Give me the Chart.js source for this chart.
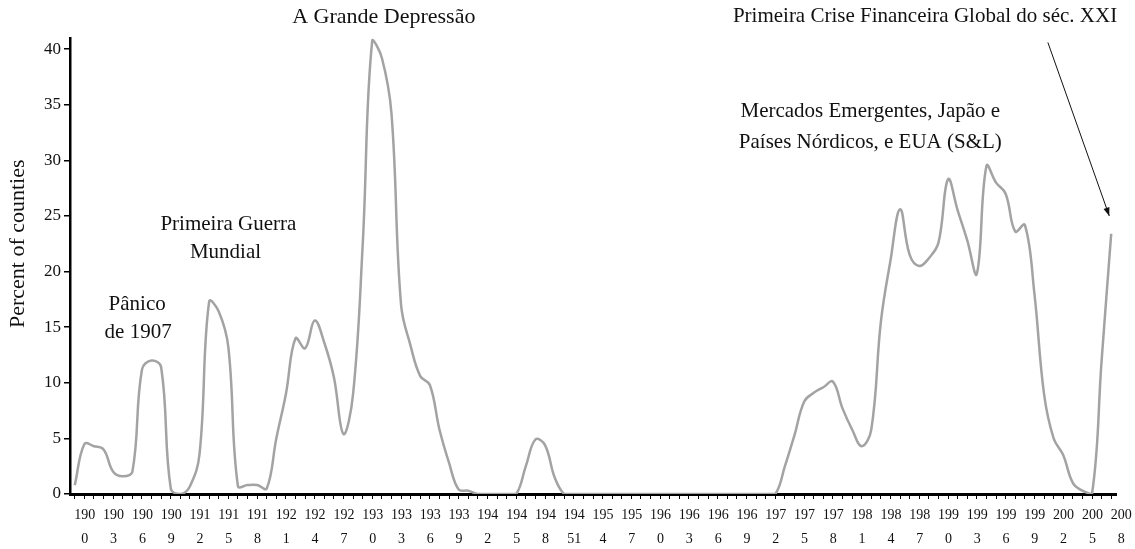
<!DOCTYPE html>
<html>
<head>
<meta charset="utf-8">
<script src="https://cdn.jsdelivr.net/npm/chart.js@4/dist/chart.umd.min.js"></script>
<style>
  html, body { margin: 0; padding: 0; background: #fff; }
  #wrap { width: 1135px; height: 549px; }
</style>
</head>
<body>
<div id="wrap"><canvas id="crisisChart"></canvas></div>
<script>
// years 1900..2008, one point per year
const years = Array.from({ length: 109 }, (_, i) => String(1900 + i));

// percent of countries in banking crisis
const shares = [
  0.8, 4.5, 4.3, 4.0, 2.0, 1.6, 2.0, 11.2, 12.0, 11.4,      // 1900-1909
  0.5, 0, 0.7, 3.6, 17.3, 16.4, 13.2, 0.7, 0.8, 0.8,         // 1910-1919
  0.5, 5.0, 9.0, 14.0, 13.1, 15.6, 13.6, 10.5, 5.4, 9.0,     // 1920-1929
  22.4, 40.8, 39.2, 34.2, 17.0, 13.3, 10.6, 9.8, 5.8, 2.8,   // 1930-1939
  0.4, 0.3, 0, 0, 0, 0, 0, 2.5, 4.9, 4.4,                    // 1940-1949
  1.5, 0, 0, 0, 0, 0, 0, 0, 0, 0,                            // 1950-1959
  0, 0, 0, 0, 0, 0, 0, 0, 0, 0,                              // 1960-1969
  0, 0, 0, 0, 2.5, 5.3, 8.3, 9.1, 9.6, 10.1,                 // 1970-1979
  7.7, 5.8, 4.3, 5.8, 15.5, 21.0, 25.6, 21.5, 20.5, 21.2,    // 1980-1989
  22.6, 28.3, 25.5, 22.8, 19.8, 29.5, 28.0, 27.0, 23.6, 24.2,// 1990-1999
  18.0, 9.0, 5.0, 3.5, 1.0, 0.3, 0, 12.0, 23.4               // 2000-2008
];

// y axis ticks
const yTicks = [0, 5, 10, 15, 20, 25, 30, 35, 40];

// x tick labels every 3 years, wrapped on two lines as in the original
const tickTop = ['190','190','190','190','191','191','191','192','192','192',
  '193','193','193','193','194','194','194','194','195','195',
  '196','196','196','196','197','197','197','198','198','198',
  '199','199','199','199','200','200','200'];
const tickBottom = ['0','3','6','9','2','5','8','1','4','7',
  '0','3','6','9','2','5','8','51','4','7',
  '0','3','6','9','2','5','8','1','4','7',
  '0','3','6','9','2','5','8'];

// text notes placed by year and value
const notes = [
  { text: 'A Grande Depressão', year: 1932.2, value: 42.9, size: 22 },
  { text: 'Primeira Crise Financeira Global do séc. XXI', year: 1988.6, value: 42.9, size: 21 },
  { text: 'Mercados Emergentes, Japão e', year: 1982.9, value: 34.35, size: 21 },
  { text: 'Países Nórdicos, e EUA (S&L)', year: 1982.9, value: 31.65, size: 21 },
  { text: 'Primeira Guerra', year: 1916.0, value: 24.2, size: 21 },
  { text: 'Mundial', year: 1915.7, value: 21.75, size: 21 },
  { text: 'Pânico', year: 1906.5, value: 17.0, size: 21 },
  { text: 'de 1907', year: 1906.6, value: 14.5, size: 21 }
];
const arrow = { from: [2001.4, 40.6], to: [2007.8, 25.0] };
const yTitle = { text: 'Percent of counties', x: 18, value: 22.5, size: 22 };

const serif = '"Liberation Serif", "DejaVu Serif", serif';

const notesPlugin = {
  id: 'notes',
  afterDraw(chart) {
    const { ctx, scales: { x, y } } = chart;
    ctx.save();
    ctx.fillStyle = '#111';
    ctx.textAlign = 'center';
    ctx.textBaseline = 'middle';
    notes.forEach((n) => {
      ctx.font = n.size + 'px ' + serif;
      ctx.fillText(n.text, x.getPixelForValue(n.year - 1900), y.getPixelForValue(n.value));
    });

    // rotated y axis title
    ctx.save();
    ctx.translate(yTitle.x, y.getPixelForValue(yTitle.value));
    ctx.rotate(-Math.PI / 2);
    ctx.font = yTitle.size + 'px ' + serif;
    ctx.fillText(yTitle.text, 0, 0);
    ctx.restore();

    const x1 = x.getPixelForValue(arrow.from[0] - 1900), y1 = y.getPixelForValue(arrow.from[1]);
    const x2 = x.getPixelForValue(arrow.to[0] - 1900), y2 = y.getPixelForValue(arrow.to[1]);
    ctx.strokeStyle = '#111';
    ctx.lineWidth = 1;
    ctx.beginPath();
    ctx.moveTo(x1, y1);
    ctx.lineTo(x2, y2);
    ctx.stroke();
    const a = Math.atan2(y2 - y1, x2 - x1);
    ctx.beginPath();
    ctx.moveTo(x2, y2);
    ctx.lineTo(x2 - 9 * Math.cos(a - 0.35), y2 - 9 * Math.sin(a - 0.35));
    ctx.lineTo(x2 - 9 * Math.cos(a + 0.35), y2 - 9 * Math.sin(a + 0.35));
    ctx.closePath();
    ctx.fill();
    ctx.restore();
  }
};

new Chart(document.getElementById('crisisChart'), {
  type: 'line',
  data: {
    labels: years,
    datasets: [{
      data: shares,
      borderColor: '#a3a3a3',
      borderWidth: 2.5,
      pointRadius: 0,
      tension: 0.4,
      fill: false
    }]
  },
  options: {
    responsive: true,
    maintainAspectRatio: false,
    animation: false,
    layout: { padding: { top: 38, right: 19, left: 8, bottom: 0 } },
    plugins: { legend: { display: false }, tooltip: { enabled: false } },
    scales: {
      x: {
        offset: true,
        border: { color: '#000', width: 3 },
        grid: { drawOnChartArea: false, drawTicks: true, tickLength: 5, color: '#000', lineWidth: 1, offset: false },
        ticks: {
          autoSkip: false,
          maxRotation: 0,
          minRotation: 0,
          color: '#111',
          padding: 4,
          labelOffset: 10,
          font: { family: serif, size: 14, lineHeight: 1.75 },
          callback: (v, i) => (i % 3 === 0 ? [tickTop[i / 3], tickBottom[i / 3]] : '')
        },
        afterFit: (s) => { s.height = 55; }
      },
      y: {
        min: 0,
        max: 41,
        border: { color: '#000', width: 2.5 },
        grid: { drawOnChartArea: false, drawTicks: true, tickLength: 6, color: '#000', lineWidth: 1.5 },
        ticks: { color: '#111', padding: 3, font: { family: serif, size: 17 } },
        afterBuildTicks: (s) => { s.ticks = yTicks.map((v) => ({ value: v })); },
        afterFit: (s) => { s.width = 62; }
      }
    }
  },
  plugins: [notesPlugin]
});
</script>
</body>
</html>
